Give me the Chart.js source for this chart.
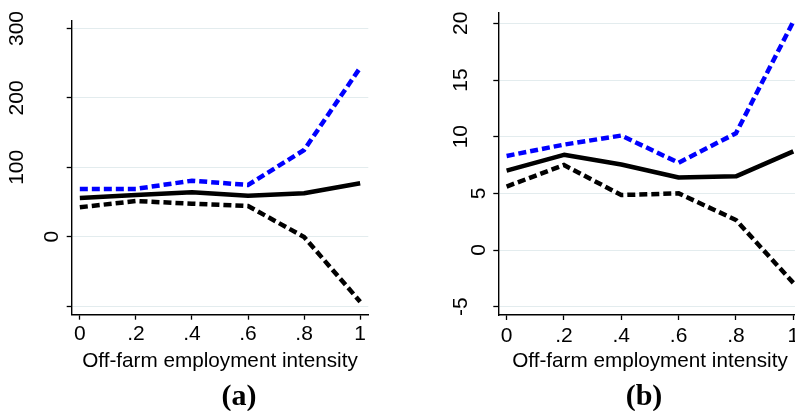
<!DOCTYPE html>
<html>
<head>
<meta charset="utf-8">
<script src="https://cdn.jsdelivr.net/npm/chart.js@4/dist/chart.umd.min.js"></script>
<style>
  html, body { margin: 0; padding: 0; background: #fff; width: 795px; height: 411px; overflow: hidden; }
  canvas { position: absolute; top: 0; }
  #panelA { left: 0; }
  #panelB { left: 400px; }
  .cap { position: absolute; top: 380px; font: bold 30px/30px "Liberation Serif", "Times New Roman", serif; color: #000; transform: translateX(-50%); white-space: nowrap; }
</style>
</head>
<body>
<canvas id="panelA" width="400" height="411"></canvas>
<canvas id="panelB" width="420" height="411"></canvas>
<div class="cap" style="left:239px">(a)</div>
<div class="cap" style="left:644px">(b)</div>
<script>
// Off-farm employment intensity levels
const intensity = [0, 0.2, 0.4, 0.6, 0.8, 1];
const xTickLabels = ['0', '.2', '.4', '.6', '.8', '1'];
const xTitle = 'Off-farm employment intensity';

// Panel (a): estimate with upper and lower bounds
const upperA = [68.7, 68.9, 80.7, 74.5, 124.9, 243.5];
const meanA  = [55.8, 60.1, 64.0, 59.1, 62.5, 76.9];
const lowerA = [42.4, 51.4, 47.6, 44.2, -0.4, -93.7];
const yTicksA = [-100, 0, 100, 200, 300];
const yTickLabelsA = ['', '0', '100', '200', '300'];

// Panel (b): estimate with upper and lower bounds
const upperB = [8.3, 9.3, 10.1, 7.7, 10.3, 20.15];
const meanB  = [7.0, 8.4, 7.55, 6.4, 6.5, 8.7];
const lowerB = [5.6, 7.5, 4.85, 5.0, 2.65, -2.9];
const yTicksB = [-5, 0, 5, 10, 15, 20];
const yTickLabelsB = ['-5', '0', '5', '10', '15', '20'];

const SANS = '"Liberation Sans", Arial, Helvetica, sans-serif';

// Vertical tick labels on the y axis, reading bottom to top
const verticalYLabels = {
  id: 'verticalYLabels',
  afterDraw(chart, args, opts) {
    const s = chart.scales.y;
    const ctx = chart.ctx;
    ctx.save();
    ctx.font = opts.size + 'px ' + SANS;
    ctx.fillStyle = '#000';
    ctx.textAlign = 'center';
    ctx.textBaseline = 'middle';
    s.ticks.forEach(t => {
      const i = opts.values.indexOf(t.value);
      const label = i >= 0 ? opts.labels[i] : String(t.value);
      if (!label) return;
      const y = s.getPixelForValue(t.value);
      const x = s.right - opts.gap - opts.charStep * label.length;
      ctx.save();
      ctx.translate(x, y);
      ctx.rotate(-Math.PI / 2);
      ctx.fillText(label, 0, 0);
      ctx.restore();
    });
    ctx.restore();
  }
};

function series(values) {
  return intensity.map((x, i) => ({ x: x, y: values[i] }));
}

function makePanel(id, upper, mean, lower, yTicks, yLabels, cfg) {
  const line = (data, color, dash) => ({
    data: series(data),
    borderColor: color,
    borderWidth: 4.5,
    borderDash: dash,
    borderCapStyle: 'butt',
    borderJoinStyle: dash.length ? 'miter' : 'round',
    pointRadius: 0,
    tension: 0,
    fill: false
  });
  return new Chart(document.getElementById(id), {
    type: 'line',
    data: {
      datasets: [
        line(lower, '#000000', [8, 4]),
        line(upper, '#0000ff', [8, 4]),
        line(mean, '#000000', [])
      ]
    },
    plugins: [verticalYLabels],
    options: {
      responsive: false,
      animation: false,
      devicePixelRatio: 1,
      layout: { padding: { top: cfg.top, right: cfg.right, left: 0, bottom: 0 } },
      plugins: {
        legend: { display: false },
        tooltip: { enabled: false },
        verticalYLabels: { values: yTicks, labels: yLabels, size: 21, gap: 1.7, charStep: 17.7 }
      },
      scales: {
        x: {
          type: 'linear',
          min: -0.029,
          max: 1.029,
          afterBuildTicks: s => { s.ticks = intensity.map(v => ({ value: v })); },
          afterFit: s => { s.height = cfg.xHeight; },
          ticks: {
            callback: (v) => xTickLabels[intensity.indexOf(v)],
            font: { family: SANS, size: 21 },
            color: '#000',
            padding: cfg.xTickPad,
            maxRotation: 0,
            autoSkip: false
          },
          grid: { drawOnChartArea: false, drawTicks: true, tickLength: 5, tickColor: '#000', tickWidth: 1.3 },
          border: { color: '#000', width: 1.4 },
          title: {
            display: true,
            text: xTitle,
            font: { family: SANS, size: 20.7 },
            color: '#000',
            padding: { top: 0, bottom: 37 }
          }
        },
        y: {
          type: 'linear',
          min: cfg.yMin,
          max: cfg.yMax,
          afterBuildTicks: s => { s.ticks = yTicks.map(v => ({ value: v })); },
          afterFit: s => { s.width = cfg.yWidth; },
          ticks: { display: false },
          grid: { color: '#e3ecee', lineWidth: 1, drawTicks: true, tickLength: 5, tickColor: '#000', tickWidth: 1.3 },
          border: { color: '#000', width: 1.4 }
        }
      }
    }
  });
}

makePanel('panelA', upperA, meanA, lowerA, yTicksA, yTickLabelsA, {
  top: 21, right: 31.7, yWidth: 71.7, xHeight: 96.3, xTickPad: 2.1, yMin: -112.4, yMax: 310.8
});
makePanel('panelB', upperB, meanB, lowerB, yTicksB, yTickLabelsB, {
  top: 12.7, right: 18.4, yWidth: 98.3, xHeight: 96, xTickPad: 3.4, yMin: -5.735, yMax: 20.94
});
</script>
</body>
</html>
